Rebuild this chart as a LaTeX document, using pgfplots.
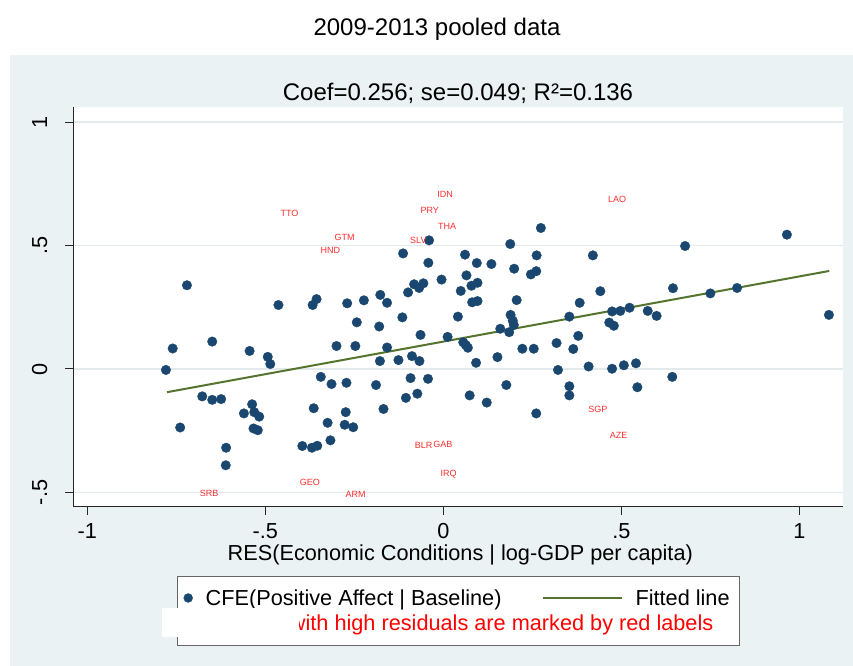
\documentclass[border=0pt]{standalone}
\usepackage{pgfplots}
\pgfplotsset{compat=1.18}
\usepackage{fontspec}
\setmainfont{Liberation Sans}
\definecolor{stnavy}{RGB}{26,71,111}
\definecolor{stgreen}{RGB}{85,117,47}
\definecolor{stbg}{RGB}{234,242,243}
\definecolor{stgrid}{RGB}{226,234,236}
\definecolor{stred}{RGB}{255,0,0}
\definecolor{stlab}{RGB}{255,45,45}
\newcommand{\fmed}{\fontsize{21.7bp}{26bp}\selectfont}
\newcommand{\flarge}{\fontsize{24bp}{29bp}\selectfont}
\pgfplotstableread{
x y
-0.779 -0.004
-0.760 0.083
-0.720 0.339
-0.739 -0.237
-0.649 0.111
-0.677 -0.111
-0.649 -0.125
-0.624 -0.122
-0.610 -0.319
-0.611 -0.390
-0.544 0.073
-0.560 -0.180
-0.537 -0.143
-0.531 -0.175
-0.517 -0.193
-0.533 -0.241
-0.521 -0.248
-0.493 0.049
-0.486 0.020
-0.463 0.259
-0.356 0.283
-0.367 0.259
-0.300 0.093
-0.344 -0.032
-0.314 -0.061
-0.364 -0.159
-0.325 -0.218
-0.317 -0.289
-0.396 -0.312
-0.369 -0.319
-0.354 -0.311
-0.270 0.266
-0.223 0.278
-0.177 0.300
-0.158 0.268
-0.099 0.310
-0.243 0.189
-0.180 0.172
-0.115 0.209
-0.247 0.093
-0.158 0.087
-0.064 0.138
-0.088 0.052
-0.067 0.032
-0.178 0.032
-0.126 0.036
-0.272 -0.056
-0.189 -0.065
-0.092 -0.037
-0.043 -0.040
-0.073 -0.100
-0.105 -0.117
-0.274 -0.175
-0.168 -0.162
-0.277 -0.226
-0.253 -0.236
-0.113 0.468
-0.040 0.521
-0.042 0.430
-0.082 0.343
-0.056 0.347
-0.068 0.328
0.274 0.571
0.188 0.506
0.061 0.463
0.262 0.460
0.094 0.429
0.135 0.425
0.199 0.406
-0.005 0.362
0.065 0.379
0.246 0.383
0.261 0.396
0.079 0.337
0.096 0.349
0.049 0.316
0.081 0.270
0.096 0.275
0.206 0.279
0.041 0.212
0.189 0.219
0.195 0.196
0.198 0.178
0.160 0.163
0.185 0.149
0.354 0.212
0.012 0.130
0.056 0.108
0.063 0.097
0.069 0.086
0.222 0.082
0.254 0.082
0.318 0.105
0.365 0.081
0.092 0.025
0.152 0.048
0.322 -0.004
0.177 -0.065
0.354 -0.070
0.354 -0.107
0.074 -0.107
0.122 -0.136
0.261 -0.180
0.679 0.498
0.420 0.460
0.441 0.315
0.645 0.327
0.750 0.306
0.383 0.268
0.474 0.233
0.497 0.235
0.523 0.248
0.574 0.235
0.599 0.215
0.466 0.188
0.479 0.175
0.379 0.134
0.408 0.010
0.474 0.001
0.507 0.015
0.541 0.023
0.643 -0.032
0.545 -0.074
0.965 0.544
0.825 0.328
1.083 0.219
}\cfedata
\pgfplotstableread{
x y lab
-0.432 0.629 TTO
-0.277 0.533 GTM
-0.317 0.479 HND
-0.070 0.522 SLV
0.005 0.708 IDN
-0.038 0.641 PRY
0.011 0.576 THA
0.488 0.685 LAO
0.434 -0.162 SGP
0.492 -0.270 AZE
-0.055 -0.310 BLR
-0.001 -0.305 GAB
0.015 -0.426 IRQ
-0.246 -0.509 ARM
-0.375 -0.460 GEO
-0.658 -0.503 SRB
}\labdata
\begin{document}
\begin{tikzpicture}
\useasboundingbox (0bp,0bp) rectangle (853bp,666bp);
\fill[white] (0bp,0bp) rectangle (853bp,666bp);
\fill[stbg] (10bp,0bp) rectangle (853bp,611bp);
\filldraw[fill=white, draw=black!60, line width=1bp] (177bp,20bp) rectangle (739bp,89bp);
\node[font=\flarge, anchor=base] at (437bp,630bp) {2009-2013 pooled data};
\node[font=\flarge, anchor=base] at (458bp,565bp) {Coef=0.256; se=0.049; R²=0.136};
\begin{scope}[shift={(73bp,159bp)}]
\begin{axis}[
  at={(0bp,0bp)}, anchor=south west, scale only axis,
  width=770bp, height=400bp,
  xmin=-1.040, xmax=1.1225, ymin=-0.559, ymax=1.061,
  axis background/.style={fill=white},
  axis x line*=bottom, axis y line*=left,
  axis line style={-, black!85, line width=1bp},
  tick align=outside, major tick length=8bp,
  tick style={black!85, line width=1bp},
  xtick={-1,-0.5,0,0.5,1}, xticklabels={-1,-.5,0,.5,1},
  ytick={-0.5,0,0.5,1}, yticklabels={-.5,0,.5,1},
  ymajorgrids, major grid style={stgrid, line width=1.5bp},
  tick label style={font=\fmed},
  xticklabel style={anchor=base, inner sep=0pt, yshift=-24bp},
  yticklabel style={xshift=-18bp, rotate=90, anchor=base, inner sep=0pt},
  xlabel={RES(Economic Conditions | log-GDP per capita)},
  xlabel style={font=\fmed, at={(axis description cs:0.503,-0.135)}, anchor=base, inner sep=0pt},
  legend columns=2,
  legend cell align=left,
  legend style={at={(axis description cs:0.1435,-0.2275)}, anchor=west,
    draw=none, fill=none, inner xsep=0pt, inner ysep=0pt,
    font=\fmed,
    /tikz/column 1/.style={column sep=11bp},
    /tikz/column 2/.style={column sep=38bp},
    /tikz/column 3/.style={column sep=11bp}},
]
\addplot[only marks, mark=*, mark size=4.8bp, color=stnavy, mark options={fill=stnavy, draw=stnavy, line width=0.3bp},
  legend image code/.code={\draw[mark size=4.5bp] plot coordinates {(0bp,0bp)};}]
  table[x=x, y=y] {\cfedata};
\addlegendentry{CFE(Positive Affect | Baseline)}
\addplot[stgreen, line width=2bp, mark=none,
  legend image code/.code={\draw[stgreen, line width=2bp] (0bp,0bp) -- (79bp,0bp);}]
  coordinates {(-0.776,-0.094) (1.084,0.397)};
\addlegendentry{Fitted line}
\addplot[forget plot, draw=none, mark=none, nodes near coords, point meta=explicit symbolic,
  nodes near coords style={anchor=center, font=\fontsize{9bp}{10bp}\selectfont, text=stlab, inner sep=0pt}]
  table[x=x, y=y, meta=lab] {\labdata};
\end{axis}
\end{scope}
\node[font=\fmed, text=stred, anchor=base east, inner sep=0pt] at (713.5bp,36bp) {Countries with high residuals are marked by red labels};
\fill[white] (162bp,29bp) rectangle (299bp,58bp);
\end{tikzpicture}
\end{document}
